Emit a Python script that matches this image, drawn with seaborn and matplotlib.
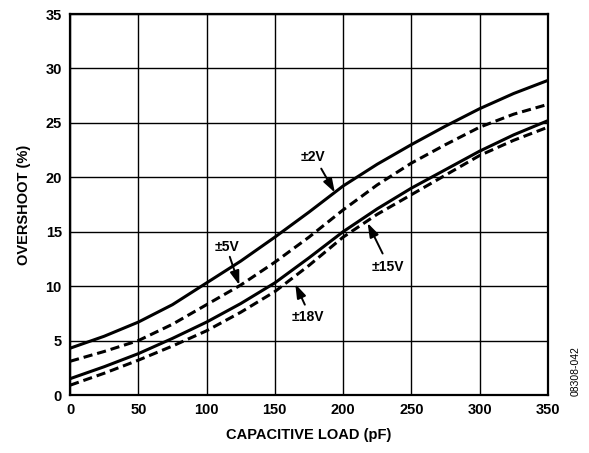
import numpy as np
import pandas as pd
import matplotlib
matplotlib.use('agg')
import matplotlib.pyplot as plt
import seaborn as sns

# capacitive load (pF) and overshoot (%)
load_pf = [0, 25, 50, 75, 100, 125, 150, 175, 200, 225, 250, 275, 300, 325, 350]
os_2v = [4.3, 5.4, 6.7, 8.3, 10.3, 12.3, 14.5, 16.8, 19.2, 21.2, 23.0, 24.7, 26.3, 27.7, 28.9]
os_5v = [3.1, 4.0, 5.0, 6.5, 8.3, 10.1, 12.2, 14.5, 17.0, 19.3, 21.3, 23.0, 24.6, 25.8, 26.7]
os_15v = [1.5, 2.6, 3.8, 5.2, 6.7, 8.4, 10.3, 12.6, 15.0, 17.1, 19.0, 20.7, 22.4, 23.9, 25.2]
os_18v = [0.9, 2.0, 3.2, 4.5, 5.9, 7.6, 9.5, 11.9, 14.5, 16.6, 18.4, 20.2, 22.0, 23.4, 24.6]

series = ['±2V', '±5V', '±15V', '±18V']
values = [os_2v, os_5v, os_15v, os_18v]

# label position, arrow tail, arrow head (data coords)
label_pos = {'±2V': (178, 21.9), '±5V': (115, 13.6), '±15V': (233, 11.8), '±18V': (174, 7.2)}
arrow_tail = {'±2V': (184, 20.8), '±5V': (117, 12.7), '±15V': (229, 13.0), '±18V': (172, 8.3)}
arrow_head = {'±2V': (194, 18.6), '±5V': (124, 10.1), '±15V': (218, 15.8), '±18V': (165, 10.2)}

df = pd.DataFrame({
    'load': load_pf * len(series),
    'overshoot': sum(values, []),
    'supply': np.repeat(series, len(load_pf)),
})

sns.set_style('white')
plt.rcParams['font.family'] = ['Liberation Sans', 'DejaVu Sans']
plt.rcParams.update({'text.color': 'black', 'axes.labelcolor': 'black',
                     'xtick.color': 'black', 'ytick.color': 'black'})

fig = plt.figure(figsize=(5.89, 4.53), dpi=100)
ax = fig.add_axes([0.119, 0.128, 0.811, 0.841])

sns.lineplot(data=df, x='load', y='overshoot', hue='supply', style='supply',
             palette=['black'] * 4, dashes=[(None, None), (3, 1.6), (None, None), (3, 1.6)],
             linewidth=2.2, legend=False, ax=ax, zorder=3)

ax.set_xlim(0, 350)
ax.set_ylim(0, 35)
ax.set_xticks(range(0, 351, 50))
ax.set_yticks(range(0, 36, 5))
ax.grid(True, color='black', linewidth=1.0)
ax.set_axisbelow(True)
for sp in ax.spines.values():
    sp.set_visible(True)
    sp.set_color('black')
    sp.set_linewidth(1.6)

ax.tick_params(axis='both', length=0, pad=6, labelsize=10.5)
for lab in ax.get_xticklabels() + ax.get_yticklabels():
    lab.set_fontweight('bold')

ax.set_xlabel('CAPACITIVE LOAD (pF)', fontsize=10.5, fontweight='bold', labelpad=8)
ax.set_ylabel('OVERSHOOT (%)', fontsize=10.5, fontweight='bold', labelpad=10)

for s in series:
    ax.text(*label_pos[s], s, fontsize=10, fontweight='bold', ha='center', va='center')
    ax.annotate('', xy=arrow_head[s], xytext=arrow_tail[s],
                arrowprops=dict(arrowstyle='-|>,head_length=0.6,head_width=0.2',
                                color='black', lw=1.4,
                                mutation_scale=14, shrinkA=0, shrinkB=0))

fig.text(0.978, 0.18, '08308-042', rotation=90, fontsize=7.5, ha='center', va='center')

plt.savefig('out.png', dpi=100)
plt.close()
